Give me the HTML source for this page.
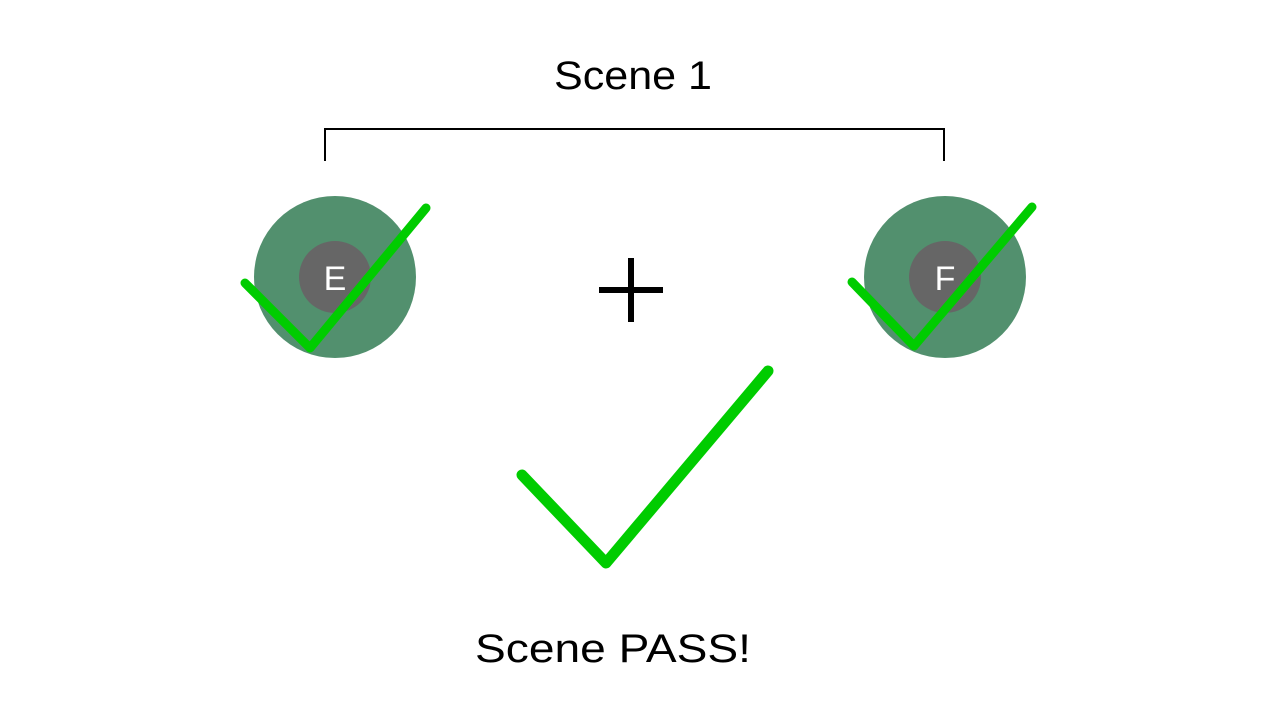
<!DOCTYPE html>
<html><head><meta charset="utf-8"><style>html,body{margin:0;padding:0;background:#fff;}</style></head>
<body>
<svg width="1280" height="720" viewBox="0 0 1280 720" xmlns="http://www.w3.org/2000/svg">
<rect width="1280" height="720" fill="#fff"/>
<text x="554" y="89" font-family="Liberation Sans, sans-serif" font-size="40" textLength="158" lengthAdjust="spacingAndGlyphs" fill="#000">Scene 1</text>
<path d="M325 161 V129 H944 V161" fill="none" stroke="#000" stroke-width="2"/>
<circle cx="335" cy="277" r="81" fill="#52906e"/>
<circle cx="335" cy="277" r="36" fill="#666"/>
<text x="335" y="290" font-family="Liberation Sans, sans-serif" font-size="34" text-anchor="middle" fill="#fff">E</text>
<circle cx="945" cy="277" r="81" fill="#52906e"/>
<circle cx="945" cy="277" r="36" fill="#666"/>
<text x="945" y="290" font-family="Liberation Sans, sans-serif" font-size="34" text-anchor="middle" fill="#fff">F</text>
<path d="M631 258 V322 M599 290 H663" stroke="#000" stroke-width="6"/>
<g fill="none" stroke="#00cc00" stroke-linecap="round" stroke-linejoin="round">
<path d="M245 283 L310 348 L426 208" stroke-width="9"/>
<path d="M852 282 L914 346 L1032 207" stroke-width="9"/>
<path d="M522 475 L606 563 L768 371" stroke-width="11"/>
</g>
<text x="475" y="662" font-family="Liberation Sans, sans-serif" font-size="40" textLength="276" lengthAdjust="spacingAndGlyphs" fill="#000">Scene PASS!</text>
</svg>
</body></html>
